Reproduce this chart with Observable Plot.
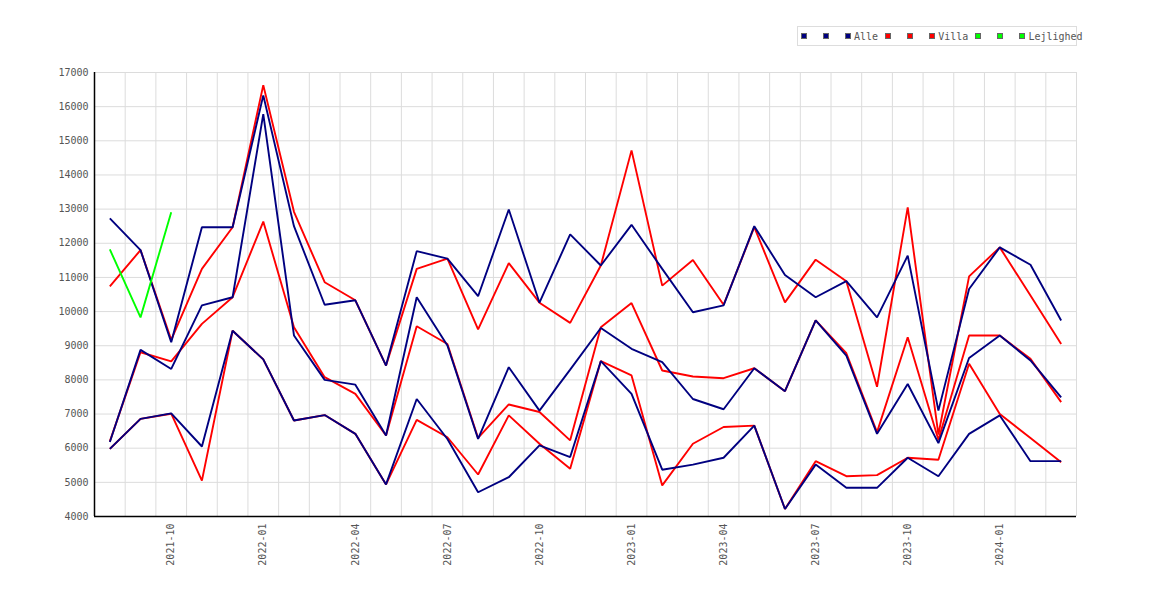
<!DOCTYPE html>
<html><head><meta charset="utf-8">
<script src="https://cdn.jsdelivr.net/npm/d3@7"></script>
<script src="https://cdn.jsdelivr.net/npm/@observablehq/plot@0.6"></script>
<style>
body{margin:0;background:#fff;}
#wrap{position:relative;width:1170px;height:600px;font-family:"DejaVu Sans Mono",monospace;}
#legend{position:absolute;left:797px;top:26px;width:280px;height:20px;border:1px solid #ddd;box-sizing:border-box;display:flex;align-items:center;padding-left:3px;font-size:10px;color:#555;white-space:pre;overflow:visible;}
.sq{width:4px;height:4px;border:1px solid #666;margin-right:3px;flex:none}
.it{display:flex;align-items:center;margin-right:7px;flex:none}
</style></head><body><div id="wrap"><div id="legend"></div><div id="chart"></div></div>
<script>
const months = ["2021-08","2021-09","2021-10","2021-11","2021-12","2022-01","2022-02","2022-03","2022-04","2022-05","2022-06","2022-07","2022-08","2022-09","2022-10","2022-11","2022-12","2023-01","2023-02","2023-03","2023-04","2023-05","2023-06","2023-07","2023-08","2023-09","2023-10","2023-11","2023-12","2024-01","2024-02","2024-03"];

const alle1 = [12730,11800,9100,12470,12470,16330,12500,10200,10330,8420,11770,11550,10450,12990,10260,12260,11350,12540,11250,9980,10180,12500,11070,10420,10890,9830,11640,7100,10660,11880,11370,9740];
const alle2 = [6180,8880,8320,10180,10420,15780,9300,8000,7860,6370,10420,9010,6270,8370,7100,8300,9520,8910,8520,7440,7140,8340,7670,9740,8710,6420,7880,6150,8640,9300,8570,7490];
const alle3 = [5980,6860,7020,6050,9440,8600,6810,6970,6420,4940,7440,6270,4710,5150,6080,5740,8550,7590,5370,5520,5720,6660,4220,5520,4840,4840,5720,5180,6420,6960,5620,5620];

const villa1 = [10740,11800,9170,11250,12470,16630,12920,10860,10330,8420,11250,11550,9480,11420,10260,9670,11350,14720,10760,11510,10200,12470,10270,11520,10890,7800,13050,6400,11030,11880,10470,9050];
const villa2 = [6200,8810,8540,9640,10420,12635,9540,8080,7590,6370,9570,9050,6300,7280,7060,6230,9540,10250,8275,8100,8050,8340,7670,9740,8780,6470,9250,6250,9300,9300,8615,7350];
const villa3 = [5980,6860,7010,5050,9440,8600,6810,6970,6420,4940,6830,6320,5230,6960,6130,5400,8550,8130,4910,6130,6620,6660,4220,5620,5180,5210,5720,5660,8470,7000,6300,5590];

const lejlighed1 = [11820,9830,12910];

const yTicks = [4000,5000,6000,7000,8000,9000,10000,11000,12000,13000,14000,15000,16000,17000];
const xTickLabels = ["2021-10","2022-01","2022-04","2022-07","2022-10","2023-01","2023-04","2023-07","2023-10","2024-01"];

const legendItems = [
  {label:" ", color:"#000080"},{label:" ", color:"#000080"},{label:"Alle", color:"#000080"},
  {label:" ", color:"#ff0000"},{label:" ", color:"#ff0000"},{label:"Villa", color:"#ff0000"},
  {label:" ", color:"#00ff00"},{label:" ", color:"#00ff00"},{label:"Lejlighed", color:"#00ff00"}
];

const seriesList = [
  {name:"villa1", color:"#ff0000", values:villa1},
  {name:"villa2", color:"#ff0000", values:villa2},
  {name:"villa3", color:"#ff0000", values:villa3},
  {name:"alle1", color:"#000080", values:alle1},
  {name:"alle2", color:"#000080", values:alle2},
  {name:"alle3", color:"#000080", values:alle3},
  {name:"lejlighed1", color:"#00ff00", values:lejlighed1}
];

const rows = [];
for (const s of seriesList) s.values.forEach((v, i) => rows.push({i, v, s: s.name, c: s.color}));

const xTickIdx = xTickLabels.map(l => months.indexOf(l));
const gridX = d3.range(-1, months.length).map(i => i + 0.5);

const lineMarks = seriesList.map(s => Plot.line(rows.filter(r => r.s === s.name), {
  x: "i", y: "v", stroke: s.color, strokeWidth: 1.9, strokeLinejoin: "miter", strokeLinecap: "butt"
}));

const chart = Plot.plot({
  width: 1170, height: 600,
  marginLeft: 94, marginRight: 94, marginTop: 72, marginBottom: 84,
  x: {type: "linear", domain: [-0.5, months.length - 0.5]},
  y: {type: "linear", domain: [4000, 17000]},
  style: {fontFamily: "'DejaVu Sans Mono', monospace", fontSize: "10px", color: "#555", background: "white"},
  marks: [
    Plot.ruleY(yTicks, {stroke: "#dcdcdc", strokeWidth: 1}),
    Plot.ruleX(gridX, {stroke: "#dcdcdc", strokeWidth: 1}),
    Plot.axisY({ticks: yTicks, tickSize: 0, tickPadding: 6, tickFormat: d => String(d), label: null, fill: "#555"}),
    Plot.axisX({ticks: xTickIdx, tickSize: 0, tickPadding: 7, tickRotate: -90, tickFormat: i => months[i], label: null, fill: "#555"}),
    ...lineMarks,
    Plot.ruleX([-0.5], {stroke: "black", strokeWidth: 1.5}),
    Plot.ruleY([4000], {stroke: "black", strokeWidth: 1.5})
  ]
});
document.getElementById("chart").appendChild(chart);

const lg = document.getElementById("legend");
for (const it of legendItems) {
  const d = document.createElement("div"); d.className = "it";
  const sq = document.createElement("div"); sq.className = "sq"; sq.style.background = it.color;
  const t = document.createElement("span"); t.textContent = it.label;
  d.appendChild(sq); d.appendChild(t); lg.appendChild(d);
}
</script></body></html>
